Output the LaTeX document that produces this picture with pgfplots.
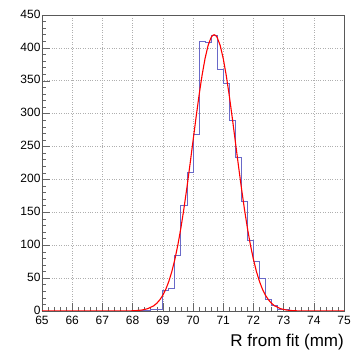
\documentclass[border=0pt]{standalone}
\usepackage{fontspec}
\setmainfont{Liberation Sans}
\usepackage{pgfplots}
\pgfplotsset{compat=1.18}
\definecolor{histblue}{RGB}{105,105,200}
\definecolor{gridgray}{RGB}{175,175,175}
\begin{document}
\begin{tikzpicture}
\begin{axis}[
  scale only axis,
  width=302pt, height=296pt,
  xmin=65, xmax=75, ymin=0, ymax=450,
  xtick={65,66,...,75},
  ytick={0,50,...,450},
  minor x tick num=4,
  minor y tick num=4,
  tick align=inside,
  tick pos=left,
  major tick length=8pt,
  minor tick length=4pt,
  every tick/.style={black!60, line width=0.5pt},
  axis line style={black!65, line width=0.6pt},
  grid=major,
  major grid style={gridgray, dotted, line width=0.6pt},
  /pgf/number format/assume math mode=true,
  ticklabel style={font=\fontsize{12}{14}\selectfont},
  xticklabel style={yshift=-1.5pt},
  yticklabel style={xshift=2pt, yshift=1pt},
  xlabel={R from fit (mm)},
  xlabel style={font=\fontsize{17}{19}\selectfont, at={(axis description cs:1,0)}, anchor=base east, yshift=-36pt, inner sep=0pt},
]
\addplot[histblue, line width=0.9pt, const plot] coordinates {
(65,0) (68.2,1) (68.4,1) (68.6,2) (68.8,3) (69.0,31) (69.2,35) (69.4,84) (69.6,161) (69.8,211)
(70.0,269) (70.2,410) (70.4,408) (70.6,419) (70.8,367) (71.0,346) (71.2,289) (71.4,233)
(71.6,167) (71.8,108) (72.0,76) (72.2,49) (72.4,18) (72.6,9) (72.8,3) (73.0,2) (73.2,1) (73.4,0) (75,0)
};
\addplot[red, line width=1.1pt] coordinates {
(65,0) (67.3,0.016) (67.7,0.06) (67.9,0.18) (68.1,0.51) (68.3,1.39) (68.5,3.5) (68.7,7.9)
(68.8,11.7) (68.9,16.9) (69.0,23.9) (69.1,33.1) (69.2,45.1) (69.3,60.1) (69.4,78.6)
(69.5,100.7) (69.6,126.5) (69.7,155.8) (69.8,188.1) (69.9,222.6) (70.0,258.3) (70.1,293.9)
(70.2,327.8) (70.3,358.3) (70.4,384.1) (70.5,403.7) (70.6,415.9) (70.65,418.9) (70.7,420)
(70.75,418.9) (70.8,415.9) (70.9,403.7) (71.0,384.1) (71.1,358.3) (71.2,327.8) (71.3,293.9)
(71.4,258.3) (71.5,222.6) (71.6,188.1) (71.7,155.8) (71.8,126.5) (71.9,100.7) (72.0,78.6)
(72.1,60.1) (72.2,45.1) (72.3,33.1) (72.4,23.9) (72.5,16.9) (72.6,11.7) (72.7,7.9)
(72.9,3.5) (73.1,1.39) (73.3,0.51) (73.5,0.18) (73.7,0.06) (74.1,0.016) (75,0)
};
\end{axis}
\pgfresetboundingbox
\path (current axis.south west) ++(-42pt,-41pt) rectangle ([shift={(12pt,15pt)}]current axis.north east);
\end{tikzpicture}
\end{document}
